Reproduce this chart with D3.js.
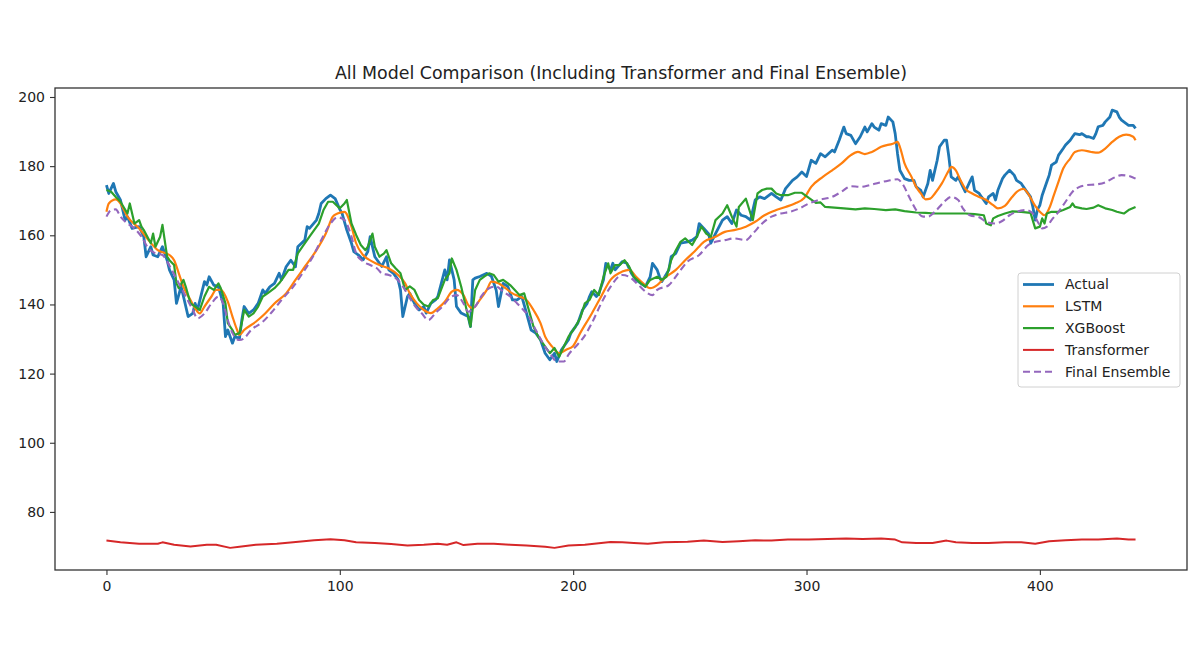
<!DOCTYPE html>
<html>
<head>
<meta charset="utf-8">
<script src="https://cdn.jsdelivr.net/npm/d3@7/dist/d3.min.js"></script>
<style>
  html, body { margin: 0; padding: 0; background: #fff; }
  svg { display: block; font-family: "DejaVu Sans", sans-serif; }
</style>
</head>
<body>
<svg id="chart" width="1201" height="651"></svg>
<script>
// ---------- data (time step, value) ----------
const title = "All Model Comparison (Including Transformer and Final Ensemble)";
const seriesNames = ["Actual", "LSTM", "XGBoost", "Transformer", "Final Ensemble"];
const xTicks = [0, 100, 200, 300, 400];
const yTicks = [80, 100, 120, 140, 160, 180, 200];

const actual = [[0,174.5],[1,172.1],[3,175],[4,172.6],[6,170.2],[8,164.4],[9,165.4],[11,162],[14,162.5],[16,159.6],[17,153.8],[19,156.7],[20,154.3],[22,153.8],[24,156.7],[26,152.8],[27,150],[29,147.1],[30,140.3],[32,145.2],[33,142.3],[35,136.5],[37,137.4],[38,140.3],[39,138.4],[42,146.6],[43,145.6],[44,148],[46,145.6],[48,145.1],[50,140.3],[51,130.7],[52,132.6],[54,128.8],[55,130.7],[57,130.2],[58,135.5],[59,139.4],[61,137.4],[63,138.4],[65,140.3],[67,144.2],[68,143.2],[70,145.1],[72,146.1],[74,149],[75,147.1],[77,150.9],[79,152.8],[81,150.9],[82,156.7],[85,158.6],[86,162.5],[87,162],[90,164.4],[91,166.3],[92,169.2],[94,170.6],[96,171.6],[98,170.6],[100,167.5],[101,166.3],[103,161.5],[105,157.7],[106,155.3],[108,154.3],[110,152.9],[112,155.3],[113,159.6],[115,153.8],[117,151.9],[118,151],[120,153.8],[121,150],[123,149],[125,147.1],[126,144.2],[127,136.5],[129,142.3],[130,143.2],[132,140.3],[134,138.4],[136,139.4],[137,137.5],[139,140.3],[141,141.3],[142,142.3],[145,150],[146,147.1],[147,152.9],[149,147.1],[150,139.4],[152,137.5],[155,136.5],[156,133.6],[157,147.1],[158,147.6],[160,148.1],[163,149],[165,148.1],[167,144.2],[168,139.4],[170,146.1],[172,145.2],[174,141.3],[176,141.3],[178,142.3],[180,137.5],[182,132.6],[184,131.7],[186,129.8],[188,125.9],[190,124],[192,125.9],[193,123.5],[195,126.9],[198,129.8],[199,131.7],[201,133.6],[202,134.6],[204,138.4],[206,140.3],[207,142.3],[208,143.7],[210,142.3],[211,143.2],[213,147.1],[214,151.9],[216,150],[217,151.9],[218,150],[221,152.4],[223,151.9],[225,149],[227,147.1],[229,146.1],[231,145.2],[233,148],[234,151.9],[236,150],[237,148],[238,146.6],[241,150],[242,153.8],[244,154.8],[246,157.7],[249,158.1],[251,158.6],[253,159.6],[254,163.4],[256,162],[258,160.5],[259,157.7],[261,160.5],[264,164.4],[266,165.4],[268,163.4],[270,167.3],[272,165.8],[274,165.4],[276,164.4],[278,170.2],[280,171.1],[282,170.6],[285,172.1],[287,171.1],[289,170.2],[291,173.5],[294,175.9],[296,176.9],[298,178.3],[300,177],[302,181.7],[304,180.8],[306,183.6],[308,182.7],[311,184.6],[312,184.1],[314,187.5],[316,191.3],[317,189.4],[319,188.9],[321,186.5],[323,188.5],[325,191.3],[326,189.9],[328,192.3],[329,191.3],[331,190.4],[332,192.3],[334,191.8],[335,194.2],[337,192.8],[338,189.4],[339,183.6],[340,178.8],[342,176.4],[344,175.9],[346,175.9],[347,174],[349,173],[350,171.1],[352,175],[353,178.8],[354,175.9],[356,181.7],[357,185.6],[359,187.5],[360,187.5],[361,182.7],[362,176.9],[364,175.9],[365,176.9],[367,174],[368,172.6],[370,175.5],[371,176.9],[372,173],[374,172.1],[375,171.1],[377,169.2],[378,171.1],[380,172.1],[381,170.2],[382,173],[384,176.4],[385,177.4],[387,178.8],[389,177.4],[390,175.9],[392,175],[394,173],[396,171.1],[397,168.2],[398,164.4],[399,167.5],[400,168.7],[401,171.6],[403,175.5],[404,177.4],[405,180.3],[407,181.2],[408,183.2],[410,185.1],[411,186.1],[413,187.5],[414,188.5],[415,189.4],[417,189.1],[418,189.4],[420,188.5],[421,188.5],[423,188],[424,189.4],[425,191.4],[427,191.8],[428,192.8],[430,194.2],[431,196.2],[433,195.7],[434,194.2],[435,193.3],[437,192.3],[438,191.8],[440,191.8],[441,190.9]];

const lstm = [[0,166.8],[1,169.2],[4,170.4],[6,169.2],[9,165.4],[14,162],[18,158.6],[22,155.7],[27,154.3],[29,152.8],[31,149],[33,145.1],[36,141.3],[38,138.9],[40,137.4],[42,139.4],[45,142.3],[47,144.2],[49,144.2],[52,140.8],[54,136.5],[56,132.6],[57,131.2],[59,132.6],[64,135],[68,137.4],[72,140.3],[77,143.2],[81,147.1],[85,150.9],[90,155.7],[94,160.5],[97,165.4],[99,166.3],[102,166.8],[105,162.5],[107,157.7],[110,154.3],[114,152.4],[117,151.4],[121,150.4],[125,148.5],[128,146.1],[130,143.2],[133,140.3],[136,138.4],[139,137.5],[142,138.9],[145,140.8],[148,143.7],[150,144.2],[153,142.7],[155,139.9],[157,138.9],[160,141.3],[163,144.2],[165,146.6],[168,146.1],[171,144.7],[174,143.2],[177,142.3],[180,141.3],[183,138.4],[186,134.6],[188,130.7],[191,127.8],[194,125.9],[197,126.9],[200,128],[203,131.7],[208,137.4],[212,142.3],[216,147.1],[221,149.5],[224,150],[227,148],[230,146.1],[233,144.7],[236,145.6],[239,147.6],[244,150],[248,152.8],[252,155.3],[256,158.1],[261,159.6],[265,161],[269,161.5],[274,162.5],[278,163.9],[282,165.8],[287,167.3],[291,168.2],[295,169.2],[299,170.8],[302,174],[307,176.9],[311,178.8],[315,180.8],[319,183.2],[322,184.1],[325,183.5],[328,184.1],[332,185.6],[337,186.5],[339,187],[340,185.6],[342,180.8],[345,176.9],[347,174],[349,172.1],[351,170.4],[353,170.6],[355,172.1],[358,175],[361,178.8],[362,179.8],[364,178.8],[366,175.9],[368,173.5],[371,172.1],[374,171.1],[377,170.2],[380,168.7],[382,167.8],[385,168.5],[388,171],[391,173],[393,173.4],[395,172],[398,168.5],[400,166.8],[402,165.8],[404,167.8],[406,171.6],[408,175.5],[410,179.3],[413,182.2],[415,184.1],[418,184.6],[422,184.1],[425,183.9],[428,185.1],[431,187],[434,188.5],[437,189.1],[440,188.5],[441,187.5]];

const xgboost = [[0,173.1],[2,172.6],[4,171.1],[6,169.7],[9,166.3],[10,169.2],[12,163.4],[14,164.4],[15,162.5],[16,161.5],[19,157.7],[20,160.5],[21,156.7],[23,159.6],[24,163],[26,153.8],[27,152.8],[29,151.4],[30,146.1],[31,144.7],[33,147.1],[34,145.1],[36,140.3],[38,139.4],[40,138.4],[42,142.3],[44,145.1],[46,144.2],[48,146.1],[49,144.7],[51,140.3],[52,134.6],[54,132.6],[55,131.2],[57,131.7],[58,134.6],[59,138.4],[61,136.5],[63,137.4],[65,139.4],[67,142.3],[69,143.2],[72,144.7],[74,146.1],[76,148],[78,150],[80,150],[82,154.8],[84,156.7],[87,159.6],[89,161.5],[91,163.4],[93,167.3],[95,169.7],[97,169.7],[100,167.8],[102,169.2],[103,170.2],[105,163.4],[107,160.1],[109,157.2],[111,155.7],[112,156.7],[114,160.5],[115,156.7],[117,153.8],[119,154.8],[120,155.7],[122,151.9],[124,150.4],[126,149],[128,144.2],[130,145.2],[132,144.2],[134,141.3],[136,139.9],[138,139.4],[140,141.3],[142,141.8],[145,147.1],[147,149],[148,153.3],[150,150],[152,145.2],[154,139.4],[155,136.5],[156,133.6],[158,144.2],[160,147.1],[162,148.1],[164,149],[166,148.5],[168,146.6],[170,147.1],[173,145.6],[175,144.2],[177,142.7],[179,143.2],[181,138.4],[183,133.6],[185,130.7],[188,127.8],[190,125.9],[192,127.4],[194,124.9],[196,127.8],[198,130.7],[201,133.6],[203,136],[205,140.3],[207,141.3],[209,144.2],[211,142.7],[213,148],[215,151.9],[216,149],[218,151.4],[220,151.4],[222,152.8],[224,150.9],[226,148],[229,146.1],[231,145.2],[233,147.1],[236,148],[238,147.1],[240,148],[242,152.8],[244,155.7],[246,158.1],[248,159.1],[251,157.2],[253,159.6],[255,162.5],[257,160.5],[259,159.6],[261,164.4],[264,166.3],[266,168.7],[268,165.4],[270,162.5],[271,168.2],[274,170.6],[276,166.3],[277,164.4],[279,172.1],[281,173.1],[283,173.5],[285,173.5],[287,172.1],[289,171.6],[292,171.6],[295,172.3],[298,172.3],[301,170.8],[304,169.4],[306,169.5],[308,168.2],[312,168],[316,167.8],[321,167.5],[325,167.8],[329,167.6],[334,167.3],[338,167.5],[342,167],[347,166.6],[351,166.5],[355,166.3],[360,166.3],[364,166.3],[368,166.3],[372,166.1],[376,165.8],[377,163.4],[379,162.9],[380,164.9],[382,165.6],[385,166.3],[388,166.9],[392,166.8],[396,166.5],[398,162],[400,162.5],[401,164.9],[402,163.4],[403,166.3],[405,166.8],[408,166.8],[410,167.3],[413,168.2],[414,169.2],[415,168.2],[418,167.8],[420,167.6],[423,168],[425,168.7],[428,167.8],[431,167.3],[433,166.8],[436,166.3],[438,167.3],[441,168.2]];

const transformer = [[0,71.7],[6,71.2],[14,70.8],[22,70.8],[24,71.2],[29,70.5],[36,70],[43,70.5],[47,70.5],[53,69.6],[57,69.9],[64,70.5],[73,70.8],[80,71.2],[89,71.8],[96,72.1],[102,71.8],[107,71.2],[115,71],[122,70.7],[129,70.3],[136,70.5],[142,70.8],[146,70.5],[150,71.2],[153,70.4],[159,70.8],[166,70.8],[173,70.5],[180,70.3],[188,69.9],[192,69.6],[198,70.3],[205,70.5],[212,71],[216,71.3],[221,71.2],[226,71],[232,70.8],[239,71.2],[249,71.4],[256,71.7],[264,71.3],[271,71.5],[278,71.8],[285,71.7],[292,72],[301,72],[309,72.2],[317,72.3],[324,72.2],[332,72.3],[338,72],[341,71.2],[347,71],[354,71],[360,71.7],[364,71.2],[371,71],[378,71],[385,71.2],[392,71.2],[398,70.8],[404,71.5],[411,71.8],[418,72],[425,72],[433,72.3],[438,72],[441,72]];

const ensemble = [[0,165.4],[2,167.3],[4,167.5],[6,165.4],[9,163.4],[12,162],[15,159.6],[18,156.2],[21,154.8],[24,154.3],[26,152.4],[28,150],[31,146.1],[34,142.3],[37,138.4],[39,136],[42,137.4],[45,140.3],[48,142.3],[50,140.3],[52,135.5],[54,131.7],[57,129.7],[59,130.2],[62,132.6],[67,135],[71,137.9],[75,141.3],[80,145.1],[84,149],[88,153.3],[92,158.6],[96,163.4],[99,165.2],[102,164.4],[105,159.6],[107,154.8],[110,152.4],[113,151.4],[116,150.4],[118,149],[121,148.5],[124,147.6],[127,145.2],[130,141.8],[133,138.9],[135,137.5],[138,135.5],[141,137.5],[144,139.4],[147,141.8],[150,142.7],[153,140.3],[155,137.9],[158,139.4],[161,142.7],[164,144.7],[167,145.2],[170,143.7],[173,142.3],[176,140.3],[178,138.9],[181,136.5],[184,132.6],[187,128.8],[190,125.9],[193,123.5],[196,123.5],[198,125.5],[202,128.5],[205,131],[208,134.6],[212,140.3],[216,145.1],[221,148.5],[224,148],[228,145.6],[231,143.7],[234,142.7],[236,144.2],[241,145.6],[245,149],[249,152.4],[254,154.3],[258,157.2],[261,158.1],[265,158.6],[269,159.1],[274,158.6],[277,160.5],[281,163.4],[285,165.4],[289,166.3],[293,166.8],[297,167.8],[301,169.2],[305,170.2],[311,171.1],[315,172.6],[319,174.2],[323,174],[327,174.5],[331,175.2],[335,175.8],[339,176.2],[341,175],[344,171.1],[347,167.3],[350,165.4],[352,165.4],[355,166.8],[359,169.7],[362,171.1],[365,170.2],[367,167.8],[370,165.8],[374,165.2],[377,163.9],[381,163.4],[384,164.2],[387,165.8],[390,166.8],[394,167.3],[397,166.3],[399,164],[401,162],[403,162.5],[405,164.4],[408,166.8],[411,169.7],[414,172.6],[417,174],[420,174.5],[424,174.7],[428,175.3],[431,176.4],[435,177.4],[438,177.2],[441,176.4]];

// ---------- layout ----------
const W = 1201, H = 651;
const plot = { left: 55, top: 88, right: 1187, bottom: 570 };
const colors = ["#1f77b4", "#ff7f0e", "#2ca02c", "#d62728", "#9467bd"];
const widths = [2.8, 2.2, 2.2, 2.0, 2.1];

const svg = d3.select("#chart");
svg.append("rect").attr("width", W).attr("height", H).attr("fill", "#fff");

const x = d3.scaleLinear().domain([-22.05, 463.05]).range([plot.left, plot.right]);
const y = d3.scaleLinear().domain([63.2, 202.6]).range([plot.bottom, plot.top]);

svg.append("defs").append("clipPath").attr("id", "clip")
  .append("rect").attr("x", plot.left).attr("y", plot.top)
  .attr("width", plot.right - plot.left).attr("height", plot.bottom - plot.top);

const allSeries = [actual, lstm, xgboost, transformer, ensemble];
const curves = [d3.curveLinear, d3.curveMonotoneX, d3.curveLinear, d3.curveLinear, d3.curveMonotoneX];

const g = svg.append("g").attr("clip-path", "url(#clip)");
allSeries.forEach((data, i) => {
  const line = d3.line().x(d => x(d[0])).y(d => y(d[1])).curve(curves[i]);
  g.append("path")
    .datum(data)
    .attr("d", line)
    .attr("fill", "none")
    .attr("stroke", colors[i])
    .attr("stroke-width", widths[i])
    .attr("stroke-linejoin", "round")
    .attr("stroke-linecap", "butt")
    .attr("stroke-dasharray", i === 4 ? "7,4" : null);
});

// axes
const axisColor = "#333";
const xAxis = svg.append("g").attr("transform", `translate(0,${plot.bottom})`)
  .call(d3.axisBottom(x).tickValues(xTicks).tickSize(5).tickPadding(6).tickFormat(d3.format("d")));
const yAxis = svg.append("g").attr("transform", `translate(${plot.left},0)`)
  .call(d3.axisLeft(y).tickValues(yTicks).tickSize(5).tickPadding(5).tickFormat(d3.format("d")));
[xAxis, yAxis].forEach(a => {
  a.select(".domain").remove();
  a.selectAll(".tick line").attr("stroke", axisColor).attr("stroke-width", 1.1);
  a.selectAll(".tick text").attr("fill", "#222").style("font-size", "14px")
    .style("font-family", "'DejaVu Sans', sans-serif");
});

// frame
svg.append("rect")
  .attr("x", plot.left).attr("y", plot.top)
  .attr("width", plot.right - plot.left).attr("height", plot.bottom - plot.top)
  .attr("fill", "none").attr("stroke", axisColor).attr("stroke-width", 1.3);

// title
svg.append("text")
  .attr("x", (plot.left + plot.right) / 2).attr("y", 79)
  .attr("text-anchor", "middle")
  .attr("fill", "#222")
  .style("font-size", "17.4px")
  .text(title);

// legend
const lg = svg.append("g");
lg.append("rect")
  .attr("x", 1018).attr("y", 273).attr("width", 162).attr("height", 114)
  .attr("rx", 3).attr("fill", "#fff").attr("fill-opacity", 0.85)
  .attr("stroke", "#d0d0d0").attr("stroke-width", 1);
seriesNames.forEach((name, i) => {
  const yy = 284.5 + i * 21.8;
  lg.append("line")
    .attr("x1", 1023).attr("x2", 1054).attr("y1", yy).attr("y2", yy)
    .attr("stroke", colors[i]).attr("stroke-width", widths[i])
    .attr("stroke-dasharray", i === 4 ? "7,4" : null);
  lg.append("text")
    .attr("x", 1065).attr("y", yy).attr("dy", "0.35em")
    .attr("fill", "#222").style("font-size", "14px")
    .text(name);
});
</script>
</body>
</html>
